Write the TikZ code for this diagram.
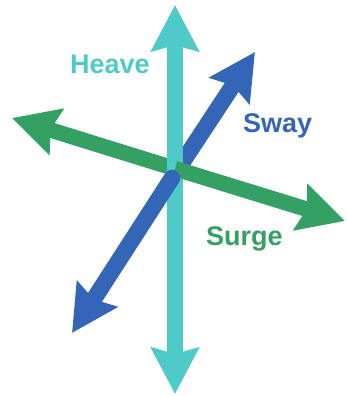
\documentclass[tikz,border=0pt]{standalone}
\usepackage{fontspec}
\setmainfont{Liberation Sans}
\usetikzlibrary{arrows.meta}
\definecolor{heavec}{RGB}{78,203,200}
\definecolor{surgec}{RGB}{52,160,100}
\definecolor{swayc}{RGB}{52,102,184}
\tikzset{
  axisline/.style={line width=15.5pt, -{Stealth[length=46pt,width=47pt,inset=6pt]}},
  lbl/.style={anchor=base west, inner sep=0pt, font=\fontsize{27}{32}\selectfont\bfseries}
}
\begin{document}
\begin{tikzpicture}[x=1pt,y=-1pt]
\useasboundingbox (0,0) rectangle (346,396);
% coordinates
\coordinate (hc) at (175,168);
\coordinate (htop) at (175,5);
\coordinate (hbot) at (175,394);
\coordinate (gc) at (175,168.6);
\coordinate (gleft) at (12,118);
\coordinate (gright) at (345,221);
\coordinate (bc) at (172,178);
\coordinate (bup) at (255,52);
\coordinate (bdown) at (72,333);
% upper sway (behind)
\draw[axisline, line width=16.5pt, swayc] (bc) -- (bup);
% left surge (behind heave)
\draw[axisline, surgec] (gc) -- (gleft);
% heave
\draw[axisline, heavec] (hc) -- (htop);
\draw[axisline, heavec] (hc) -- (hbot);
% right surge (over heave)
\draw[axisline, surgec] (gc) -- (gright);
% lower sway (front)
\draw[axisline, line width=16.5pt, swayc, line cap=round] (bc) -- (bdown);
% labels
\node[lbl, text=heavec] (heave) at (70,74) {Heave};
\node[lbl, text=swayc] (sway) at (243,132) {Sway};
\node[lbl, text=surgec] (surge) at (206,245) {Surge};
\end{tikzpicture}
\end{document}
